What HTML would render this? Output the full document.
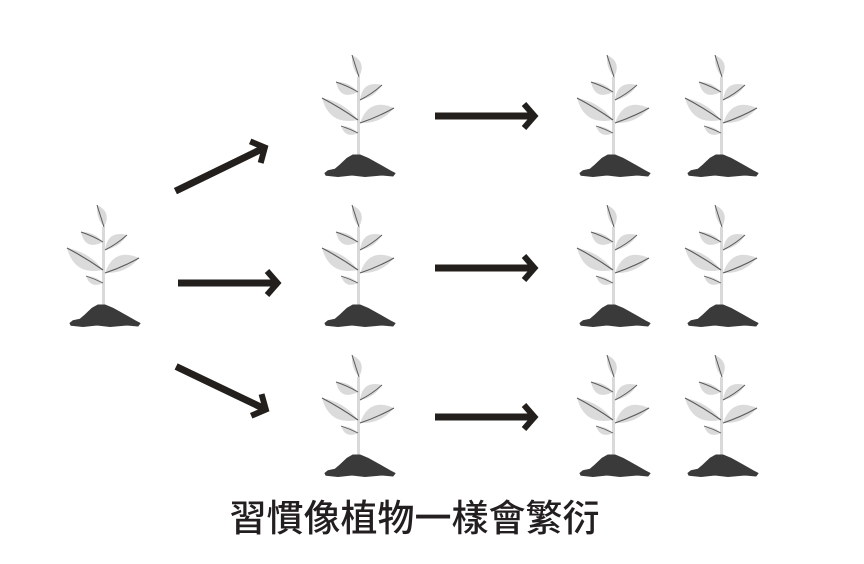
<!DOCTYPE html>
<html><head><meta charset="utf-8"><style>
html,body{margin:0;padding:0;background:#fff;}
svg{display:block;}
</style></head><body>
<svg width="864" height="564" viewBox="0 0 864 564" xmlns="http://www.w3.org/2000/svg">
<defs>
<g id="plant">
  <line x1="0.5" y1="-100" x2="0.5" y2="-16" stroke="#d9d9d9" stroke-width="3"/>
  <!-- top leaf -->
  <path d="M1,-100 Q9,-115 -6,-122 Q-7,-109 1,-100Z" fill="#d9d9d9"/>
  <path d="M1,-100 Q-2.5,-111 -6,-122" fill="none" stroke="#5a5a5a" stroke-width="1"/>
  <!-- UL -->
  <path d="M0,-85 Q-18,-76 -22,-95 Q-9,-95.5 0,-85Z" fill="#dadada"/>
  <path d="M0,-85 Q-10,-91 -22,-95" fill="none" stroke="#5a5a5a" stroke-width="1"/>
  <!-- UR -->
  <path d="M2,-77 Q4.5,-97 24,-92 Q16.5,-79.5 2,-77Z" fill="#dadada"/>
  <path d="M2,-77 Q14,-83 24,-92" fill="none" stroke="#5a5a5a" stroke-width="1"/>
  <!-- LL -->
  <path d="M0,-57 Q-28.5,-51 -36,-79 Q-13.5,-75 0,-57Z" fill="#dbdbdb"/>
  <path d="M0,-57 Q-17,-69 -36,-79" fill="none" stroke="#5a5a5a" stroke-width="1.1"/>
  <!-- LR -->
  <path d="M2,-54 Q11,-80 36,-69 Q23,-53 2,-54Z" fill="#dbdbdb"/>
  <path d="M2,-54 Q20,-60 36,-69" fill="none" stroke="#5a5a5a" stroke-width="1.1"/>
  <!-- small -->
  <path d="M0,-44 Q-12.5,-38 -17,-51 Q-7,-51 0,-44Z" fill="#dadada"/>
  <path d="M0,-44 Q-8,-48 -17,-51" fill="none" stroke="#5a5a5a" stroke-width="0.9"/>
  <!-- soil -->
  <path d="M-33,-3.7 L-30,-6.3 L-23,-7.7 L-18,-12 L-11,-18.7 L-5,-22 L2,-22 L10,-18.7 L19,-13.7 L25,-10.3 L32,-6.3 L37,-3.7 L35,-1 L24,-2 L7,-0.5 L-6,-2 L-20,-0.5 L-32,-1.7 Z" fill="#3b3a3a" stroke="#3b3a3a" stroke-width="1" stroke-linejoin="round"/>
</g>
<g id="arrow">
  <line x1="-103" y1="0" x2="-4" y2="0" stroke="#231f1c" stroke-width="7"/>
  <polyline points="-14,-12 -3.5,0 -14,12" fill="none" stroke="#231f1c" stroke-width="6" stroke-linejoin="miter" stroke-miterlimit="4"/>
</g>
</defs>

<use href="#plant" transform="translate(103,327)"/>
<use href="#plant" transform="translate(358,177)"/>
<use href="#plant" transform="translate(358,327)"/>
<use href="#plant" transform="translate(358,477)"/>
<use href="#plant" transform="translate(613,177)"/>
<use href="#plant" transform="translate(721,177)"/>
<use href="#plant" transform="translate(613,327)"/>
<use href="#plant" transform="translate(721,327)"/>
<use href="#plant" transform="translate(613,477)"/>
<use href="#plant" transform="translate(721,477)"/>

<use href="#arrow" transform="translate(268,146) rotate(-26)"/>
<use href="#arrow" transform="translate(281,283)"/>
<use href="#arrow" transform="translate(269,411) rotate(25.6)"/>

<use href="#arrow" transform="translate(538,116)"/>
<use href="#arrow" transform="translate(538,268)"/>
<use href="#arrow" transform="translate(538,417)"/>

<text x="414.5" y="531" text-anchor="middle" font-family="'Liberation Sans','Noto Sans CJK TC',sans-serif" font-size="37" font-weight="500" fill="#231f20">習慣像植物一樣會繁衍</text>
</svg>
</body></html>
